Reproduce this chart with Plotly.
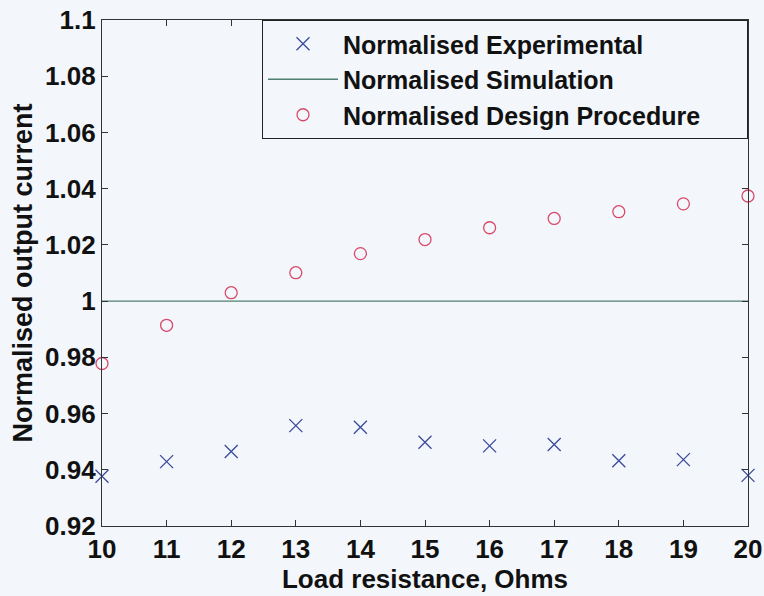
import plotly.graph_objects as go

load_res = [10, 11, 12, 13, 14, 15, 16, 17, 18, 19, 20]
experimental = [0.9377, 0.9429, 0.9465, 0.9557, 0.9551, 0.9498, 0.9485, 0.9490, 0.9432, 0.9436, 0.9380]
simulation = [1.0] * 11
design = [0.9778, 0.9914, 1.0030, 1.0101, 1.0169, 1.0219, 1.0261, 1.0294, 1.0318, 1.0346, 1.0374]
series_names = ["Normalised Experimental", "Normalised Simulation", "Normalised Design Procedure"]

x_ticks = list(range(10, 21))
y_ticks = [0.92, 0.94, 0.96, 0.98, 1.0, 1.02, 1.04, 1.06, 1.08, 1.1]
y_tick_labels = ["0.92", "0.94", "0.96", "0.98", "1", "1.02", "1.04", "1.06", "1.08", "1.1"]

FONT = "Liberation Sans, Arial, sans-serif"
BG = "#f3f6fb"
PAD = "\u00a0" * 6  # right padding inside the legend box

fig = go.Figure()
fig.add_trace(go.Scatter(
    x=load_res, y=experimental, mode="markers", name=series_names[0],
    marker=dict(symbol="x-thin", size=13, line=dict(color="#3a4a9a", width=1.3), color="#3a4a9a"),
    cliponaxis=False,
))
fig.add_trace(go.Scatter(
    x=load_res, y=simulation, mode="lines", name=series_names[1],
    line=dict(color="#4f7f70", width=1.3),
))
fig.add_trace(go.Scatter(
    x=load_res, y=design, mode="markers", name=series_names[2] + PAD,
    marker=dict(symbol="circle-open", size=12, line=dict(color="#d84a6a", width=1.3), color="#d84a6a"),
    cliponaxis=False,
))

axis_common = dict(
    showline=True, linecolor="#333333", linewidth=1.2, mirror="ticks",
    ticks="inside", ticklen=6, tickcolor="#333333", showgrid=False, zeroline=False,
    automargin=False,
    tickfont=dict(family=FONT, size=26, color="#111111", weight="bold"),
)

fig.update_layout(
    width=764, height=596,
    margin=dict(l=102, r=16, t=20, b=70),
    paper_bgcolor=BG, plot_bgcolor=BG,
    showlegend=True,
    legend=dict(
        x=1, y=1, xanchor="right", yanchor="top",
        bgcolor=BG, bordercolor="#222222", borderwidth=1,
        font=dict(family=FONT, size=25, color="#111111", weight="bold"),
        tracegroupgap=0, itemwidth=70,
    ),
    xaxis=dict(
        range=[10, 20], tickvals=x_ticks,
        title=dict(text="Load resistance, Ohms", standoff=4,
                   font=dict(family=FONT, size=26, color="#111111", weight="bold")),
        **axis_common,
    ),
    yaxis=dict(
        range=[0.92, 1.1], tickvals=y_ticks, ticktext=y_tick_labels,
        title=dict(text="Normalised output current", standoff=4,
                   font=dict(family=FONT, size=27, color="#111111", weight="bold")),
        **axis_common,
    ),
)

fig.write_html("out.html")
